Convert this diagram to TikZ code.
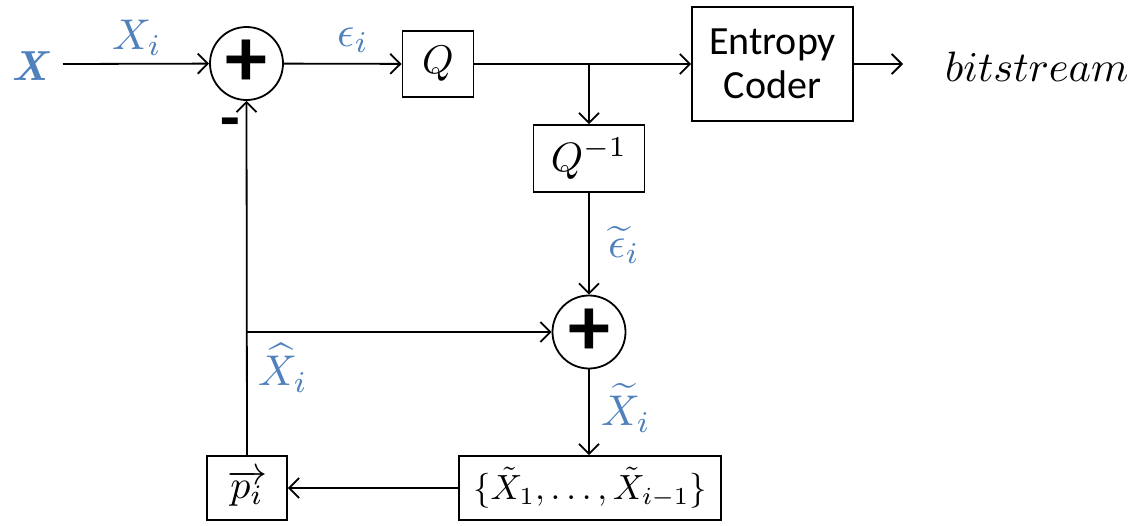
\documentclass[tikz,border=0pt]{standalone}
\usepackage{fontspec}
\setsansfont{Carlito}
\usetikzlibrary{arrows.meta}
\definecolor{lblue}{RGB}{79,129,189}
\newcommand\mth[2][3.6]{\scalebox{#1}{$#2$}}
\tikzset{
  conn/.style={line width=1.8pt, -{Straight Barb[length=10pt,width=20pt,line width=1.8pt]}},
  blk/.style={draw, line width=1.8pt, inner sep=0pt},
  sumnode/.style={draw, circle, line width=1.8pt, minimum size=73pt, inner sep=0pt,
    font=\fontsize{84}{84}\sffamily\bfseries},
  mlab/.style={text=lblue},
}
\begin{document}
\begin{tikzpicture}[x=1pt,y=-1pt]
\useasboundingbox (0,0) rectangle (1140,525);
% nodes
\node[sumnode] (s1) at (246.5,63.5) {+};
\node[blk, minimum width=71pt, minimum height=66pt] (q) at (438,64) {\mth[4]{Q}};
\node[blk, minimum width=161pt, minimum height=114pt, align=center,
      font=\fontsize{40}{44}\sffamily] (ec) at (772.5,64) {Entropy\\Coder};
\node[anchor=west, inner sep=0pt] (bs) at (945,67) {\mth[4.25]{bitstream}};
\node[blk, minimum width=111pt, minimum height=67pt] (qi) at (589,158.5) {\mth[4.1]{Q^{-1}}};
\node[sumnode] (s2) at (589,332) {+};
\node[blk, minimum width=262pt, minimum height=64pt] (set) at (590,488) {\mth[3.5]{\{\tilde X_1,\dots,\tilde X_{i-1}\}}};
\node[blk, minimum width=80pt, minimum height=64pt] (p) at (247,488) {\mth[4]{\overrightarrow{p_i}}};
% coordinates
\coordinate (in) at (63,64);
\coordinate (j) at (589,64);
\coordinate (fb) at (247,332);
\coordinate (out) at (903,64);
% labels
\node[text=lblue, font=\fontsize{42}{42}\bfseries\itshape] (xl) at (30,66) {X};
\node[mlab] (xil) at (137,38) {\mth[4.3]{X_i}};
\node[mlab] (epl) at (353,40) {\mth[4.3]{\epsilon_i}};
\node[mlab] (etl) at (624,245) {\mth[4.3]{\widetilde{\epsilon}_i}};
\node[mlab] (xhl) at (283,368) {\mth[4.3]{\widehat{X}_i}};
\node[mlab] (xtl) at (626,408) {\mth[4.3]{\widetilde{X}_i}};
\node[font=\fontsize{64}{64}\sffamily\bfseries] (minus) at (230,129) {-};
% connectors
\draw[conn] (in) -- (s1);
\draw[conn] (s1) -- (q);
\draw[conn] (q) -- (ec);
\draw[conn] (j) -- (qi);
\draw[conn] (qi) -- (s2);
\draw[conn] (s2) -- (s2 |- set.north);
\draw[conn] (set) -- (p);
\draw[conn] (p.north) -- (s1.south);
\draw[conn] (fb) -- (s2);
\draw[conn] (ec) -- (out);
\end{tikzpicture}
\end{document}
